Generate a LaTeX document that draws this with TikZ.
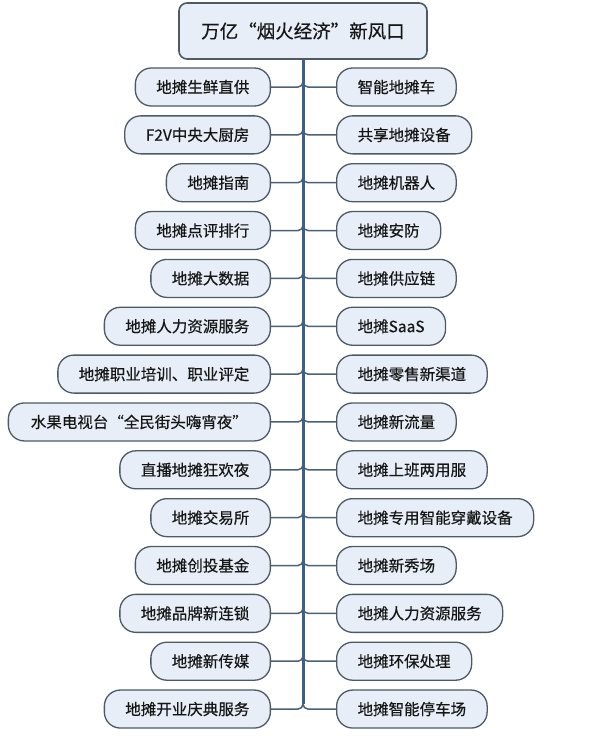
\documentclass[tikz,border=0pt]{standalone}
\usepackage{fontspec}
\setmainfont{Noto Sans CJK SC}[FakeBold=0.4]
\definecolor{nodefill}{HTML}{E7EEF7}
\definecolor{nodeline}{HTML}{4E5964}
\definecolor{connc}{HTML}{4C6176}
\definecolor{trunkc}{HTML}{3D5F88}
\definecolor{textc}{HTML}{161616}
\tikzset{
  leaf/.style={draw=nodeline, line width=1.3pt, fill=nodefill, rounded corners=16pt,
    minimum height=38pt, inner xsep=21pt, inner ysep=0pt,
    font=\fontsize{15.5}{18}\selectfont, text=textc},
  lnode/.style={leaf, anchor=east},
  rnode/.style={leaf, anchor=west},
  topbox/.style={draw=nodeline, line width=1.6pt, fill=nodefill, rounded corners=8pt,
    minimum width=248pt, minimum height=56pt, inner sep=0pt,
    font=\fontsize{18.5}{22}\selectfont, text=textc},
  conn/.style={draw=connc, line width=1.5pt, rounded corners=5pt},
  trunkline/.style={draw=trunkc, line width=3pt}
}
\begin{document}
\begin{tikzpicture}[x=1pt,y=-1pt]
\useasboundingbox (0,0) rectangle (590,737);
\node[topbox] (top) at (303,31) {万亿“烟火经济”新风口};
\def\rowy#1{87+47.85*(#1-1)}
\node[lnode] (l1) at (271,{\rowy{1}}) {地摊生鲜直供};
\node[lnode] (l2) at (271,{\rowy{2}}) {F2V中央大厨房};
\node[lnode] (l3) at (271,{\rowy{3}}) {地摊指南};
\node[lnode] (l4) at (271,{\rowy{4}}) {地摊点评排行};
\node[lnode] (l5) at (271,{\rowy{5}}) {地摊大数据};
\node[lnode] (l6) at (271,{\rowy{6}}) {地摊人力资源服务};
\node[lnode] (l7) at (271,{\rowy{7}}) {地摊职业培训、职业评定};
\node[lnode, minimum width=262pt] (l8) at (271,{\rowy{8}}) {水果电视台“全民街头嗨宵夜”};
\node[lnode] (l9) at (271,{\rowy{9}}) {直播地摊狂欢夜};
\node[lnode] (l10) at (271,{\rowy{10}}) {地摊交易所};
\node[lnode] (l11) at (271,{\rowy{11}}) {地摊创投基金};
\node[lnode] (l12) at (271,{\rowy{12}}) {地摊品牌新连锁};
\node[lnode] (l13) at (271,{\rowy{13}}) {地摊新传媒};
\node[lnode] (l14) at (271,{\rowy{14}}) {地摊开业庆典服务};
\node[rnode] (r1) at (336,{\rowy{1}}) {智能地摊车};
\node[rnode] (r2) at (336,{\rowy{2}}) {共享地摊设备};
\node[rnode] (r3) at (336,{\rowy{3}}) {地摊机器人};
\node[rnode] (r4) at (336,{\rowy{4}}) {地摊安防};
\node[rnode] (r5) at (336,{\rowy{5}}) {地摊供应链};
\node[rnode] (r6) at (336,{\rowy{6}}) {地摊SaaS};
\node[rnode] (r7) at (336,{\rowy{7}}) {地摊零售新渠道};
\node[rnode] (r8) at (336,{\rowy{8}}) {地摊新流量};
\node[rnode] (r9) at (336,{\rowy{9}}) {地摊上班两用服};
\node[rnode] (r10) at (336,{\rowy{10}}) {地摊专用智能穿戴设备};
\node[rnode] (r11) at (336,{\rowy{11}}) {地摊新秀场};
\node[rnode] (r12) at (336,{\rowy{12}}) {地摊人力资源服务};
\node[rnode] (r13) at (336,{\rowy{13}}) {地摊环保处理};
\node[rnode] (r14) at (336,{\rowy{14}}) {地摊智能停车场};
\foreach \i in {1,...,14}{
  \draw[conn] (l\i.east) -| (top.south);
  \draw[conn] (r\i.west) -| (top.south);
}
\coordinate (tend) at (303,{\rowy{14}-5});
\draw[trunkline] (top.south) -- (tend);
\end{tikzpicture}
\end{document}
